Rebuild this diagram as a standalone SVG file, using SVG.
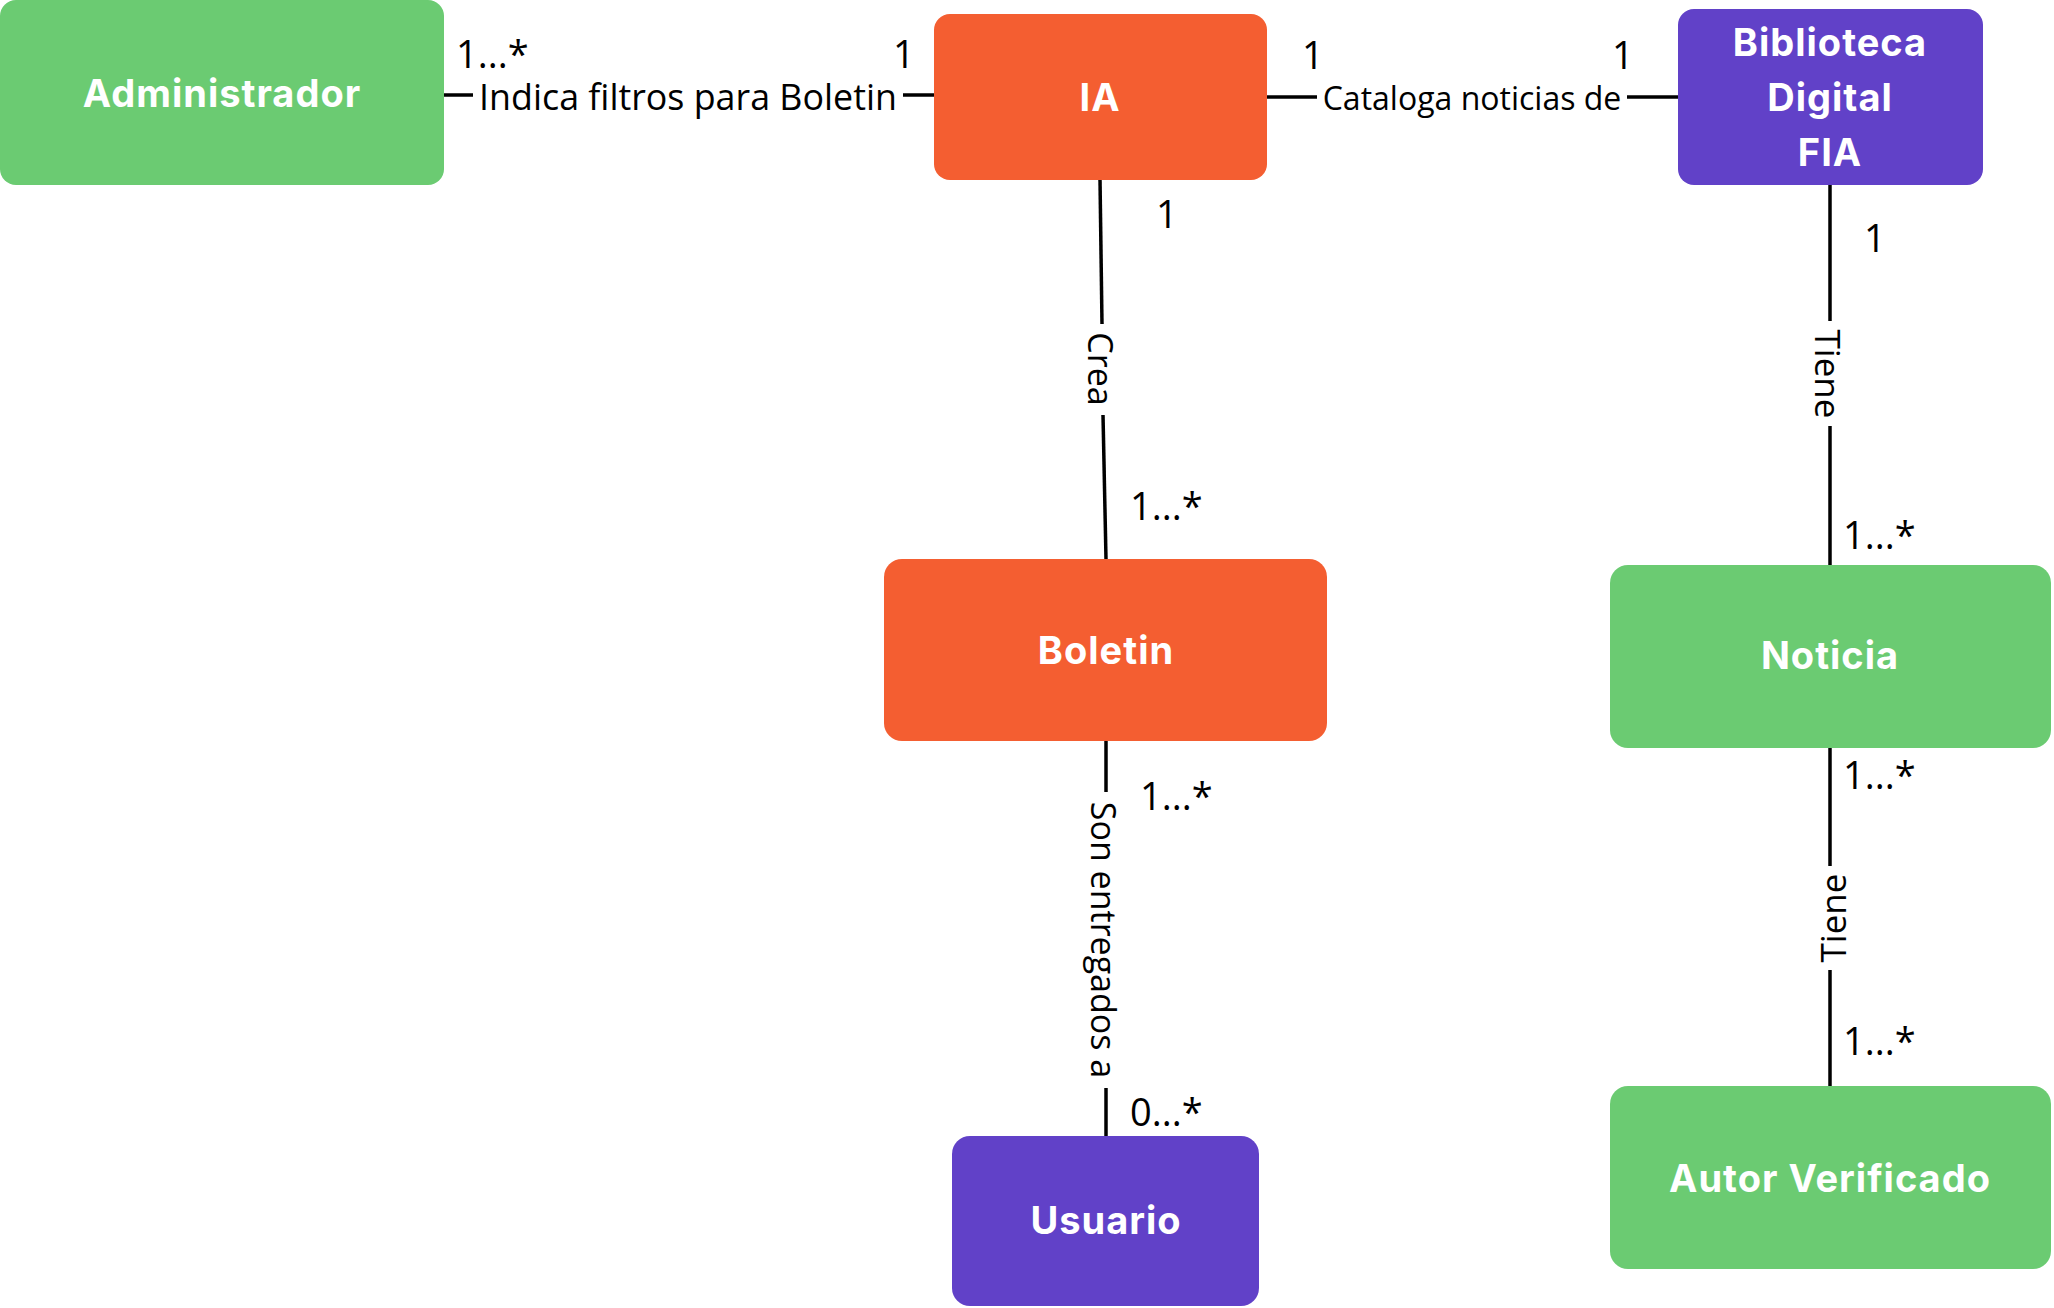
<svg xmlns="http://www.w3.org/2000/svg" width="2054" height="1308" viewBox="0 0 2054 1308">
<style>
.green{fill:#6bcb72}
.orange{fill:#f45e31}
.purple{fill:#6141c8}
.nt{font-family:Inter,"Open Sans",sans-serif;font-weight:700;font-size:38px;fill:#ffffff;text-anchor:middle;dominant-baseline:central;letter-spacing:1px}
.lb{font-family:"Open Sans",sans-serif;font-size:38px;fill:#000000}
.lbm{font-family:"Open Sans",sans-serif;font-size:34px;fill:#000000;text-anchor:middle;dominant-baseline:central}
.ln{stroke:#000000;stroke-width:3.5;fill:none}
</style>
<rect width="2054" height="1308" fill="#ffffff"/>
<g id="connectors">
  <line class="ln" x1="444" y1="95" x2="473" y2="95"/>
  <line class="ln" x1="903" y1="95" x2="934" y2="95"/>
  <text class="lbm" x="688" y="96" style="font-size:35.8px">Indica filtros para Boletin</text>
  <line class="ln" x1="1267" y1="97" x2="1317" y2="97"/>
  <line class="ln" x1="1627" y1="97" x2="1678" y2="97"/>
  <text class="lbm" x="1472" y="97" style="font-size:32px">Cataloga noticias de</text>
  <line class="ln" x1="1100" y1="179" x2="1102" y2="324"/>
  <line class="ln" x1="1103" y1="415" x2="1106" y2="559"/>
  <text class="lbm" x="1101" y="369" transform="rotate(90 1101 369)">Crea</text>
  <line class="ln" x1="1106" y1="741" x2="1106" y2="792"/>
  <line class="ln" x1="1106" y1="1088" x2="1106" y2="1136"/>
  <text class="lbm" x="1104" y="940" transform="rotate(90 1104 940)">Son entregados a</text>
  <line class="ln" x1="1830" y1="185" x2="1830" y2="321"/>
  <line class="ln" x1="1830" y1="426" x2="1830" y2="565"/>
  <text class="lbm" x="1828" y="374" transform="rotate(90 1828 374)" style="font-size:35px">Tiene</text>
  <line class="ln" x1="1830" y1="748" x2="1830" y2="866"/>
  <line class="ln" x1="1830" y1="970" x2="1830" y2="1086"/>
  <text class="lbm" x="1832" y="918" transform="rotate(-90 1832 918)" style="font-size:35px">Tiene</text>
  <text class="lb" x="456" y="68">1...*</text>
  <text class="lb" x="893" y="68">1</text>
  <text class="lb" x="1302" y="69">1</text>
  <text class="lb" x="1612" y="69">1</text>
  <text class="lb" x="1156" y="228">1</text>
  <text class="lb" x="1130" y="520">1...*</text>
  <text class="lb" x="1140" y="810">1...*</text>
  <text class="lb" x="1130" y="1126">0...*</text>
  <text class="lb" x="1864" y="252">1</text>
  <text class="lb" x="1843" y="549">1...*</text>
  <text class="lb" x="1843" y="789">1...*</text>
  <text class="lb" x="1843" y="1055">1...*</text>
</g>
<g id="administrador">
  <rect class="green" x="0" y="0" width="444" height="185" rx="16"/>
  <text class="nt" x="222" y="93">Administrador</text>
</g>
<g id="ia">
  <rect class="orange" x="934" y="14" width="333" height="166" rx="16"/>
  <text class="nt" x="1100" y="97">IA</text>
</g>
<g id="biblioteca">
  <rect class="purple" x="1678" y="9" width="305" height="176" rx="16"/>
  <text class="nt" x="1830" y="42">Biblioteca</text>
  <text class="nt" x="1830" y="97">Digital</text>
  <text class="nt" x="1830" y="152">FIA</text>
</g>
<g id="boletin">
  <rect class="orange" x="884" y="559" width="443" height="182" rx="18"/>
  <text class="nt" x="1106" y="650">Boletin</text>
</g>
<g id="noticia">
  <rect class="green" x="1610" y="565" width="441" height="183" rx="18"/>
  <text class="nt" x="1830" y="655">Noticia</text>
</g>
<g id="usuario">
  <rect class="purple" x="952" y="1136" width="307" height="170" rx="18"/>
  <text class="nt" x="1106" y="1220">Usuario</text>
</g>
<g id="autor">
  <rect class="green" x="1610" y="1086" width="441" height="183" rx="18"/>
  <text class="nt" x="1830" y="1178">Autor Verificado</text>
</g>
</svg>
